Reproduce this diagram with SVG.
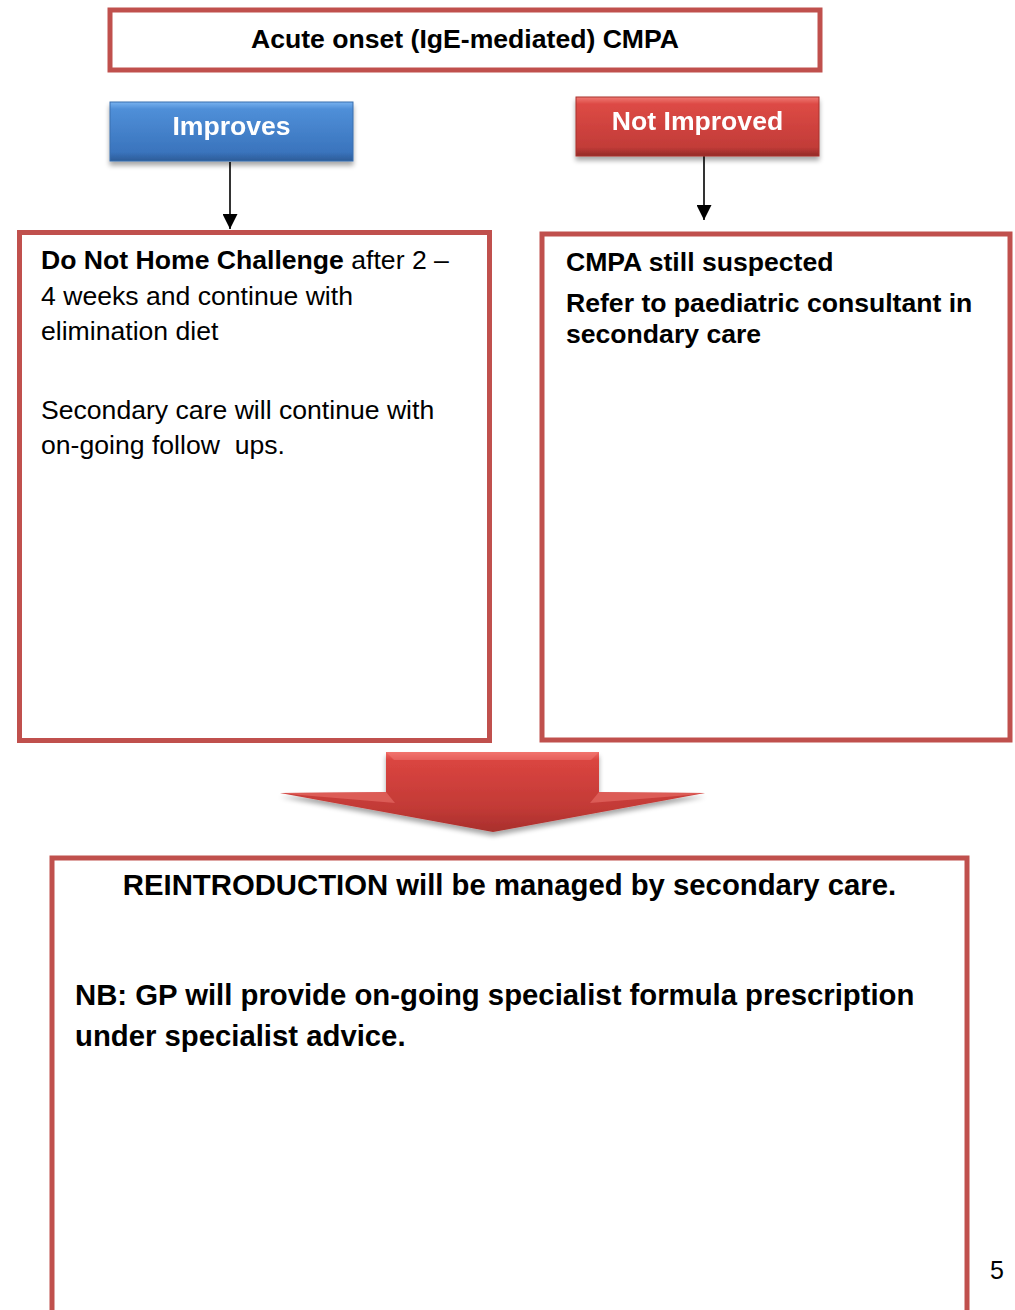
<svg xmlns="http://www.w3.org/2000/svg" width="1015" height="1310" viewBox="0 0 1015 1310">
<defs>
<style>
.box{fill:#fff;stroke:#c0504d;stroke-width:5}
.t{font-family:"Liberation Sans",Arial,sans-serif;fill:#000}
.b{font-weight:bold}
.btn{font-family:"Liberation Sans",Arial,sans-serif;font-weight:bold;fill:#fff;font-size:26.6px}
.conn{stroke:#000;stroke-width:1.6;fill:none}
</style>
<linearGradient id="gBlue" x1="0" y1="0" x2="0" y2="1">
<stop offset="0" stop-color="#78b2ef"/>
<stop offset="0.12" stop-color="#4f8fd8"/>
<stop offset="0.85" stop-color="#3a74bd"/>
<stop offset="1" stop-color="#2c5c98"/>
</linearGradient>
<linearGradient id="gRed" x1="0" y1="0" x2="0" y2="1">
<stop offset="0" stop-color="#f07a75"/>
<stop offset="0.12" stop-color="#dd4a45"/>
<stop offset="0.85" stop-color="#c23c38"/>
<stop offset="1" stop-color="#922a27"/>
</linearGradient>
<linearGradient id="gArrow" x1="0" y1="0" x2="0" y2="1">
<stop offset="0" stop-color="#f06a64"/>
<stop offset="0.1" stop-color="#da4540"/>
<stop offset="0.7" stop-color="#c23a36"/>
<stop offset="1" stop-color="#a82f2c"/>
</linearGradient>
<filter id="sh" x="-10%" y="-20%" width="120%" height="160%">
<feGaussianBlur in="SourceAlpha" stdDeviation="2.5"/>
<feOffset dx="0" dy="4" result="o"/>
<feComponentTransfer><feFuncA type="linear" slope="0.35"/></feComponentTransfer>
<feMerge><feMergeNode/><feMergeNode in="SourceGraphic"/></feMerge>
</filter>
<marker id="ah" viewBox="0 0 10 10" refX="10" refY="5" markerWidth="15" markerHeight="15" markerUnits="userSpaceOnUse" orient="auto">
<path d="M0,0 L10,5 L0,10 z" fill="#000"/>
</marker>
</defs>

<g id="connectors">
<line class="conn" x1="230" y1="162" x2="230" y2="229" marker-end="url(#ah)"/>
<line class="conn" x1="704" y1="155" x2="704" y2="220" marker-end="url(#ah)"/>
<g id="big-arrow" filter="url(#sh)">
<path d="M386,752 L599,752 L599,792 L705,793 L493,832 L280,793 L386,792 z" fill="url(#gArrow)"/>
<path d="M386,752 L599,752 L591,760 L394,760 z" fill="#f5817b" opacity="0.45"/>
<path d="M386,792 L395,803 L300,795 L280,793 z" fill="#f07a75" opacity="0.5"/>
<path d="M599,792 L590,803 L690,795 L705,793 z" fill="#f07a75" opacity="0.5"/>
</g>
</g>

<g id="node-title">
<rect class="box" x="110" y="10" width="710" height="60"/>
<text class="t b" x="465" y="48" font-size="26.6" text-anchor="middle">Acute onset (IgE-mediated) CMPA</text>
</g>

<g id="node-improves" filter="url(#sh)">
<rect x="110" y="102" width="243" height="59" fill="url(#gBlue)" stroke="#3a6eae" stroke-width="1"/>
<text class="btn" x="231.5" y="135" text-anchor="middle">Improves</text>
</g>

<g id="node-not-improved" filter="url(#sh)">
<rect x="576" y="97" width="243" height="59" fill="url(#gRed)" stroke="#a8322f" stroke-width="1"/>
<text class="btn" x="697.5" y="130" text-anchor="middle">Not Improved</text>
</g>

<g id="node-left">
<rect class="box" x="19.5" y="232.5" width="470" height="508"/>
<text class="t" x="41" y="269" font-size="26.6"><tspan class="b">Do Not Home Challenge</tspan> after 2 –</text>
<text class="t" x="41" y="305" font-size="26.6">4 weeks and continue with</text>
<text class="t" x="41" y="340" font-size="26.6">elimination diet</text>
<text class="t" x="41" y="419" font-size="26.6">Secondary care will continue with</text>
<text class="t" x="41" y="454" font-size="26.6" xml:space="preserve">on-going follow  ups.</text>
</g>

<g id="node-right">
<rect class="box" x="542" y="234" width="468" height="506"/>
<text class="t b" x="566" y="271" font-size="26.6">CMPA still suspected</text>
<text class="t b" x="566" y="312" font-size="26.6">Refer to paediatric consultant in</text>
<text class="t b" x="566" y="343" font-size="26.6">secondary care</text>
</g>

<g id="node-bottom">
<rect class="box" x="52" y="858" width="915" height="480"/>
<text class="t b" x="509.5" y="895" font-size="29.3" text-anchor="middle">REINTRODUCTION will be managed by secondary care.</text>
<text class="t b" x="75" y="1005" font-size="29.3">NB: GP will provide on-going specialist formula prescription</text>
<text class="t b" x="75" y="1046" font-size="29.3">under specialist advice.</text>
</g>

<text class="t" x="990" y="1279" font-size="25">5</text>
</svg>
